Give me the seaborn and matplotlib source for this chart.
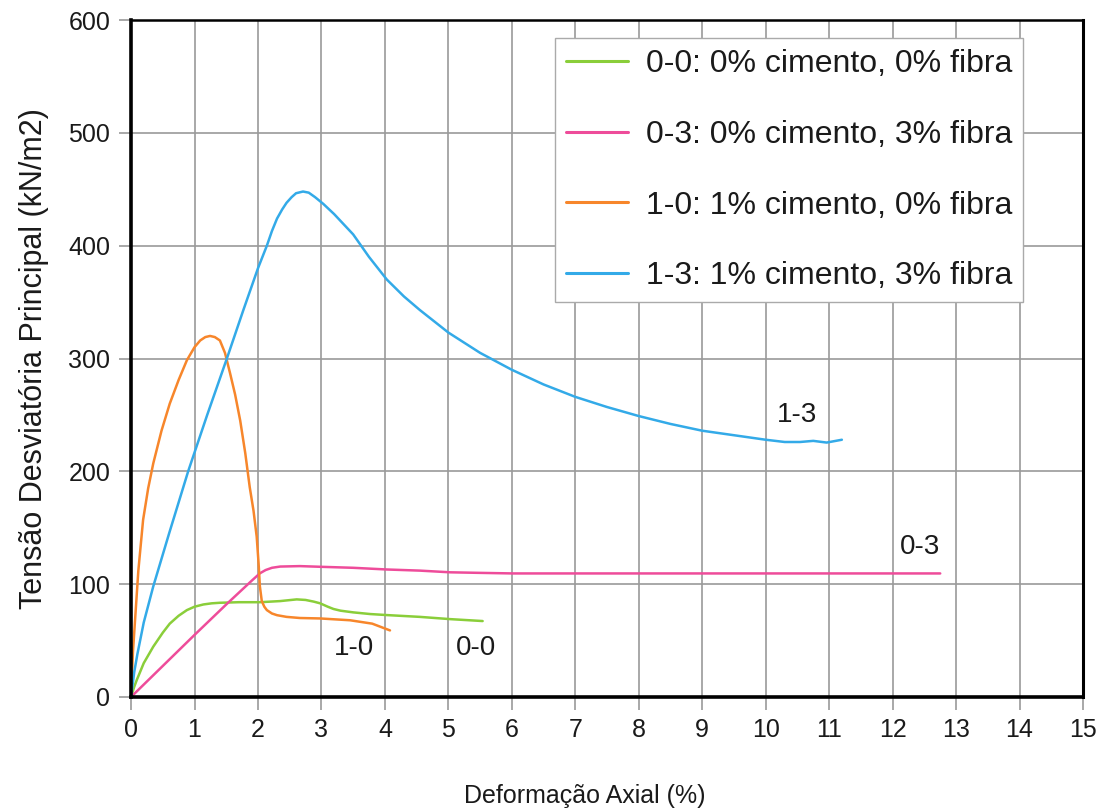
import matplotlib
matplotlib.use("Agg")
import matplotlib.pyplot as plt
import seaborn as sns
import pandas as pd

# Stress-strain curves of the four mixes (axial strain %, deviator stress kN/m2)
x_00 = [0.0, 0.05, 0.09, 0.2, 0.35, 0.5, 0.61, 0.75, 0.88, 1.0, 1.14, 1.27, 1.40,
        1.70, 2.03, 2.35, 2.61, 2.75, 2.88, 2.98, 3.10, 3.19, 3.30, 3.50, 3.77,
        4.03, 4.55, 5.03, 5.54]
y_00 = [0, 9, 15, 30, 44.6, 57, 65, 72, 77, 80, 82, 83, 83.5,
        84, 84, 85, 86.5, 86, 84.5, 83, 80, 78, 76.5, 75, 73.5,
        72.6, 71, 69, 67.3]

x_03 = [0.0, 0.5, 1.0, 1.5, 1.9, 2.03, 2.12, 2.22, 2.35, 2.66, 2.98, 3.50, 4.03,
        4.55, 5.03, 5.50, 6.02, 7.0, 8.0, 9.0, 10.0, 11.0, 12.0, 12.75]
y_03 = [0, 27.5, 55, 82, 103, 109.6, 112.5, 114.5, 115.6, 116, 115.4, 114.5, 113,
        112, 110.5, 110, 109.5, 109.5, 109.5, 109.5, 109.5, 109.5, 109.5, 109.5]

x_10 = [0.0, 0.03, 0.063, 0.115, 0.19, 0.27, 0.35, 0.48, 0.61, 0.75, 0.88, 1.0,
        1.09, 1.17, 1.245, 1.32, 1.40, 1.48, 1.56, 1.64, 1.72, 1.80, 1.87, 1.93,
        1.98, 2.01, 2.03, 2.06, 2.10, 2.14, 2.22, 2.30, 2.45, 2.66, 2.98, 3.45,
        3.80, 4.08]
y_10 = [0, 40, 68, 112, 157, 185, 207, 236, 260, 281, 298.5, 310,
        316, 319, 320, 319, 316, 305, 287, 268, 245, 216, 186, 165,
        142, 118, 98, 85, 80, 77, 74, 72.5, 71, 70, 69.6, 68,
        65, 59]

x_13 = [0.0, 0.05, 0.1, 0.2, 0.35, 0.6, 0.9, 1.2, 1.51, 1.77, 2.0, 2.14, 2.22,
        2.30, 2.38, 2.45, 2.53, 2.60, 2.71, 2.80, 2.90, 3.03, 3.20, 3.50, 3.75,
        4.03, 4.30, 4.55, 5.0, 5.5, 6.0, 6.5, 7.0, 7.5, 8.0, 8.5, 9.0, 9.5,
        10.0, 10.3, 10.54, 10.75, 10.96, 11.2]
y_13 = [0, 22, 38, 66, 98, 145, 200, 250, 300, 343, 380, 400, 413,
        424, 432, 438, 443, 446.5, 448, 447, 443, 437, 428, 410, 390,
        370, 355, 343, 323, 305, 290, 277, 266, 257, 249, 242, 236, 232,
        228, 226, 226, 227, 225.5, 228]

series_names = ["0-0: 0% cimento, 0% fibra", "0-3: 0% cimento, 3% fibra",
                "1-0: 1% cimento, 0% fibra", "1-3: 1% cimento, 3% fibra"]
series_colors = ["#8ACE3A", "#EE4C9A", "#F7862B", "#33AAE8"]

curve_labels = ["1-3", "0-3", "1-0", "0-0"]
label_x = [10.5, 12.43, 3.51, 5.43]
label_y = [250, 133, 43, 43]

x_ticks = list(range(0, 16))
y_ticks = [0, 100, 200, 300, 400, 500, 600]

frames = []
for name, xs, ys in zip(series_names, [x_00, x_03, x_10, x_13], [y_00, y_03, y_10, y_13]):
    frames.append(pd.DataFrame({"deformacao": xs, "tensao": ys, "ensaio": name}))
data = pd.concat(frames, ignore_index=True)

sns.set_theme(style="white")
plt.rcParams["font.family"] = ["Liberation Sans", "DejaVu Sans"]

fig = plt.figure(figsize=(11.04, 8.08), dpi=100)
ax = fig.add_axes([0.1187, 0.1374, 0.8623, 0.8378])

sns.lineplot(data=data, x="deformacao", y="tensao", hue="ensaio",
             hue_order=series_names, palette=series_colors, sort=False,
             estimator=None, linewidth=1.8, ax=ax)

ax.set_xlim(0, 15)
ax.set_ylim(0, 600)
ax.set_xticks(x_ticks)
ax.set_yticks(y_ticks)
ax.set_xticklabels([str(t) for t in x_ticks], fontsize=18)
ax.set_yticklabels([str(t) for t in y_ticks], fontsize=18)

ax.grid(True, color="#9a9a9a", linewidth=1.2)
ax.set_axisbelow(True)
ax.tick_params(axis="both", direction="out", length=9, width=1.2, color="#9a9a9a",
               pad=6, labelcolor="#1a1a1a", bottom=True, left=True)

for side in ["left", "bottom", "right", "top"]:
    ax.spines[side].set_visible(True)
    ax.spines[side].set_color("black")
ax.spines["left"].set_linewidth(2.6)
ax.spines["bottom"].set_linewidth(2.6)
ax.spines["right"].set_linewidth(2.2)
ax.spines["top"].set_linewidth(1.8)

ax.set_xlabel("Deformação Axial (%)", fontsize=18, color="#1a1a1a")
ax.xaxis.set_label_coords(0.477, -0.128)
ax.set_ylabel("Tensão Desviatória Principal (kN/m2)", fontsize=22, labelpad=14,
              color="#1a1a1a")

for txt, lx, ly in zip(curve_labels, label_x, label_y):
    ax.text(lx, ly, txt, fontsize=20, ha="center", va="center", color="#1a1a1a")

leg = ax.legend(loc="upper left", bbox_to_anchor=(0.445, 0.973), fontsize=23,
                frameon=True, fancybox=False, edgecolor="#aaaaaa", framealpha=1,
                handlelength=1.95, handletextpad=0.55, labelspacing=1.27,
                borderpad=0.35, borderaxespad=0)
leg.get_frame().set_linewidth(1.0)
for line in leg.get_lines():
    line.set_linewidth(2.2)
for t in leg.get_texts():
    t.set_color("#1a1a1a")

fig.savefig("out.png", dpi=100)
